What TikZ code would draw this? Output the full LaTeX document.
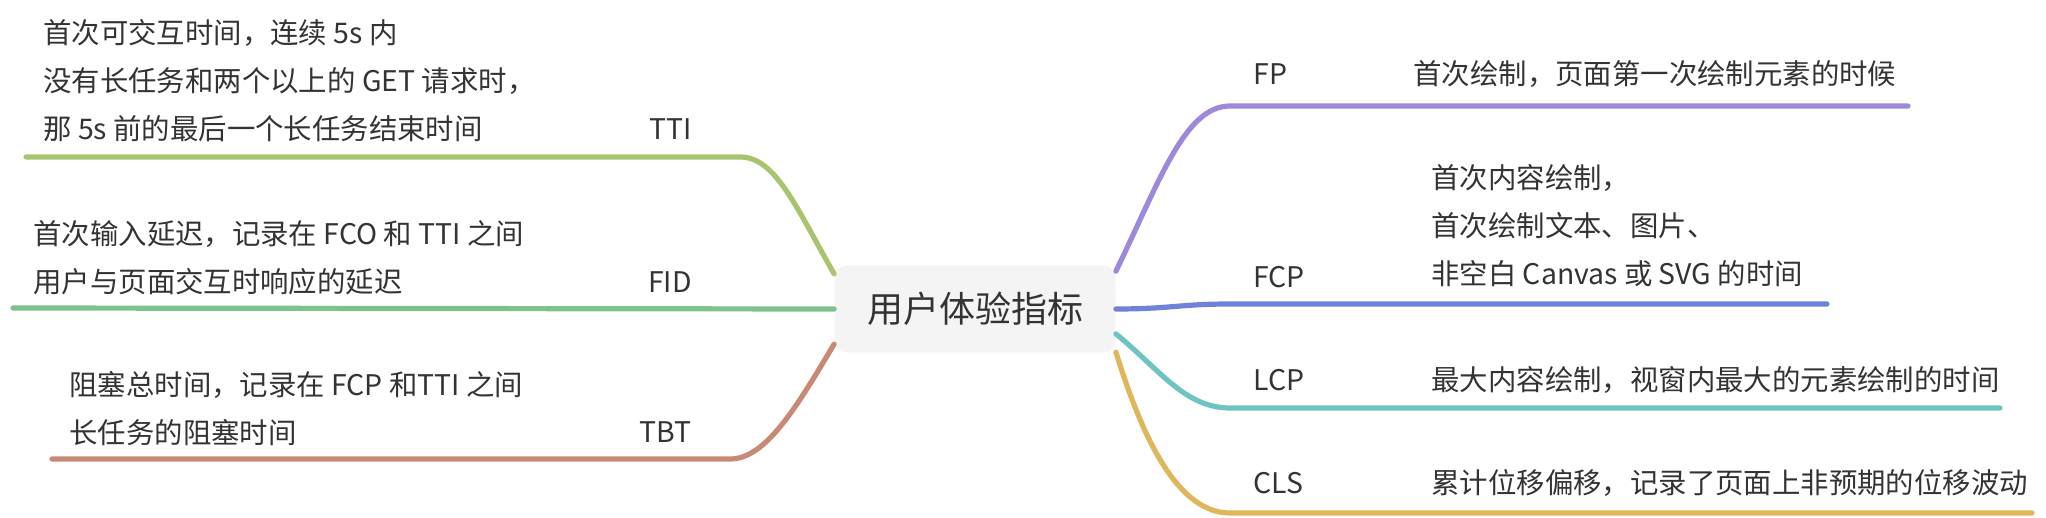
\documentclass[tikz,border=0pt]{standalone}
\usepackage{fontspec}
\setmainfont{Noto Sans CJK SC}
\usepackage{tikz}
\usetikzlibrary{positioning}
\definecolor{ink}{HTML}{333333}
\definecolor{rootfill}{HTML}{F4F4F4}
\definecolor{cTTI}{HTML}{A8C46E}
\definecolor{cFID}{HTML}{7CC28C}
\definecolor{cTBT}{HTML}{C88A74}
\definecolor{cFP}{HTML}{9D88DB}
\definecolor{cFCP}{HTML}{7081D9}
\definecolor{cLCP}{HTML}{6DC4C1}
\definecolor{cCLS}{HTML}{DEB65C}

\begin{document}
\begin{tikzpicture}[x=0.5pt,y=-0.5pt,font=\fontsize{14.2}{24}\selectfont,text=ink,
  branch/.style={line width=2.6pt,line cap=round},
  abbr/.style={inner sep=0pt},
  desc/.style={anchor=west,inner sep=0pt,align=left}]
  \useasboundingbox (0,0) rectangle (2046,518);

  \node[fill=rootfill,rounded corners=6pt,minimum width=140.5pt,minimum height=43.5pt,
    font=\fontsize{18}{20}\selectfont] (root) at (975,309) {用户体验指标};

  \coordinate (ttiB) at (740,157);  \coordinate (ttiE) at (26,157);
  \coordinate (fidE) at (13,308);
  \coordinate (tbtB) at (730,459);  \coordinate (tbtE) at (52,459);
  \coordinate (fpB) at (1230,106);  \coordinate (fpE) at (1908,106);
  \coordinate (fcpB) at (1230,304); \coordinate (fcpE) at (1827,304);
  \coordinate (lcpB) at (1230,408); \coordinate (lcpE) at (2000,408);
  \coordinate (clsB) at (1230,513); \coordinate (clsE) at (2032,513);

  \draw[branch,cTTI] (root.166) .. controls (795,205) and (775,157) .. (ttiB) -- (ttiE);
  \draw[branch,cFID] (root.west) -- (fidE);
  \draw[branch,cTBT] (root.194) .. controls (795,410) and (765,459) .. (tbtB) -- (tbtE);
  \draw[branch,cFP] (root.15) .. controls (1160,180) and (1185,106) .. (fpB) -- (fpE);
  \draw[branch,cFCP] (root.east) .. controls (1170,309) and (1180,304) .. (fcpB) -- (fcpE);
  \draw[branch,cLCP] (root.-10) .. controls (1160,370) and (1185,408) .. (lcpB) -- (lcpE);
  \draw[branch,cCLS] (root.-17) .. controls (1140,430) and (1175,513) .. (clsB) -- (clsE);

  \node[desc] (ttiText) at (43,81) {首次可交互时间，连续 5s 内\\没有长任务和两个以上的 GET 请求时，\\那 5s 前的最后一个长任务结束时间};
  \node[abbr,anchor=east] (tti) at (692,129) {TTI};
  \node[desc] (fidText) at (33,258) {首次输入延迟，记录在 FCO 和 TTI 之间\\用户与页面交互时响应的延迟};
  \node[abbr,anchor=east] (fid) at (692,282) {FID};
  \node[desc] (tbtText) at (69,409) {阻塞总时间，记录在 FCP 和TTI 之间\\长任务的阻塞时间};
  \node[abbr,anchor=east] (tbt) at (692,432) {TBT};

  \node[abbr,anchor=west] (fp) at (1253,74) {FP};
  \node[desc] (fpText) at (1413,74) {首次绘制，页面第一次绘制元素的时候};
  \node[abbr,anchor=west] (fcp) at (1253,277) {FCP};
  \node[desc] (fcpText) at (1431,226) {首次内容绘制，\\首次绘制文本、图片、\\非空白 Canvas 或 SVG 的时间};
  \node[abbr,anchor=west] (lcp) at (1253,380) {LCP};
  \node[desc] (lcpText) at (1431,380) {最大内容绘制，视窗内最大的元素绘制的时间};
  \node[abbr,anchor=west] (cls) at (1253,483) {CLS};
  \node[desc] (clsText) at (1431,483) {累计位移偏移，记录了页面上非预期的位移波动};
\end{tikzpicture}
\end{document}
